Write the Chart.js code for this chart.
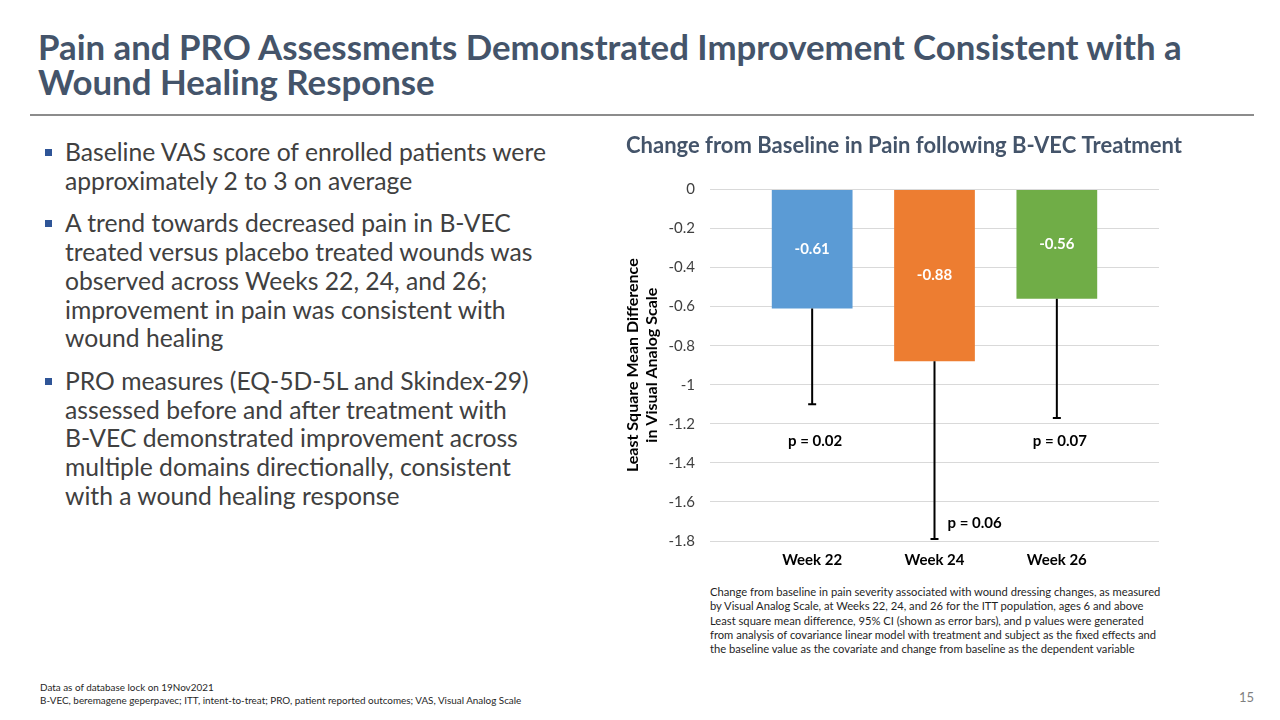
<!DOCTYPE html>
<html>
<head>
<meta charset="utf-8">
<title>Change from Baseline in Pain following B-VEC Treatment</title>
<script src="https://cdn.jsdelivr.net/npm/chart.js@4.4.1/dist/chart.umd.min.js"></script>
<style>
  html, body { margin: 0; padding: 0; background: #fff; }
  body { width: 1280px; height: 720px; position: relative; overflow: hidden; font-family: Lato, "Open Sans", sans-serif; }
  .title { position: absolute; left: 38px; top: 29px; font-size: 34.8px; line-height: 35px; font-weight: 700; color: #44546A; white-space: nowrap; }
  .rule { position: absolute; left: 30px; top: 114px; width: 1224px; height: 2px; background: #8C8C8C; }
  ul.bullets { position: absolute; left: 40px; top: 138px; margin: 0; padding: 0; list-style: none; font-size: 24.7px; line-height: 28.7px; color: #404040; white-space: nowrap; }
  ul.bullets li { position: relative; padding-left: 25px; margin-bottom: 14px; }
  ul.bullets li::before { content: ''; position: absolute; left: 5px; top: 11px; width: 7px; height: 7px; background: #2F5597; }
  #chartBox { position: absolute; left: 600px; top: 125px; width: 608px; height: 455px; }
  .note { position: absolute; left: 710px; top: 585px; font-size: 11.2px; line-height: 14.3px; color: #1f1f1f; white-space: nowrap; }
  .foot { position: absolute; left: 40px; top: 681px; font-size: 9.9px; line-height: 12.5px; color: #1f1f1f; white-space: nowrap; }
  .pagenum { position: absolute; right: 26px; top: 689px; font-size: 13px; color: #7F7F7F; }
</style>
</head>
<body>
<div class="title">Pain and PRO Assessments Demonstrated Improvement Consistent with a<br>Wound Healing Response</div>
<div class="rule"></div>

<ul class="bullets">
  <li>Baseline VAS score of enrolled patients were<br>approximately 2 to 3 on average</li>
  <li>A trend towards decreased pain in B-VEC<br>treated versus placebo treated wounds was<br>observed across Weeks 22, 24, and 26;<br>improvement in pain was consistent with<br>wound healing</li>
  <li>PRO measures (EQ-5D-5L and Skindex-29)<br>assessed before and after treatment with<br>B-VEC demonstrated improvement across<br>multiple domains directionally, consistent<br>with a wound healing response</li>
</ul>

<div id="chartBox"><canvas id="painChart"></canvas></div>

<div class="note">Change from baseline in pain severity associated with wound dressing changes, as measured<br>by Visual Analog Scale, at Weeks 22, 24, and 26 for the ITT population, ages 6 and above<br>Least square mean difference, 95% CI (shown as error bars), and p values were generated<br>from analysis of covariance linear model with treatment and subject as the fixed effects and<br>the baseline value as the covariate and change from baseline as the dependent variable</div>

<div class="foot">Data as of database lock on 19Nov2021<br>B-VEC, beremagene geperpavec; ITT, intent-to-treat; PRO, patient reported outcomes; VAS, Visual Analog Scale</div>
<div class="pagenum">15</div>

<script>
// data
const weeks = ['Week 22', 'Week 24', 'Week 26'];
const lsMeanDiff = [-0.61, -0.88, -0.56];
const ciLower = [-1.10, -1.79, -1.17];
const pValues = ['0.02', '0.06', '0.07'];
const barColors = ['#5B9BD5', '#ED7D31', '#70AD47'];
const yMin = -1.8;
const yMax = 0;
const yStep = 0.2;

const FONT = 'Lato, "Open Sans", sans-serif';

// error bars (lower half only), value labels and p values
const annotate = {
    id: 'annotate',
    afterDatasetsDraw(chart) {
        const ctx = chart.ctx;
        const y = chart.scales.y;
        const area = chart.chartArea;
        const bars = chart.getDatasetMeta(0).data;

        ctx.save();
        ctx.strokeStyle = '#000';
        ctx.lineWidth = 2;
        bars.forEach(function(bar, i) {
            const yEnd = y.getPixelForValue(ciLower[i]);
            ctx.beginPath();
            ctx.moveTo(bar.x, bar.y);
            ctx.lineTo(bar.x, yEnd);
            ctx.moveTo(bar.x - 4, yEnd);
            ctx.lineTo(bar.x + 4, yEnd);
            ctx.stroke();
        });

        // value labels in the middle of each bar
        ctx.font = 'bold 15px ' + FONT;
        ctx.fillStyle = '#fff';
        ctx.textAlign = 'center';
        ctx.textBaseline = 'middle';
        bars.forEach(function(bar, i) {
            ctx.fillText(lsMeanDiff[i].toFixed(2), bar.x, (bar.y + bar.base) / 2);
        });

        // p values: under the whisker when there is room, otherwise beside it
        const fits = ciLower.map(function(v) { return y.getPixelForValue(v) + 40 < area.bottom; });
        let lowY = 0;
        ciLower.forEach(function(v, i) { if (fits[i]) lowY = Math.max(lowY, y.getPixelForValue(v)); });
        ctx.fillStyle = '#000';
        bars.forEach(function(bar, i) {
            const txt = 'p = ' + pValues[i];
            if (fits[i]) {
                ctx.textAlign = 'center';
                ctx.fillText(txt, bar.x + 3, lowY + 23);
            } else {
                ctx.textAlign = 'left';
                ctx.fillText(txt, bar.x + 13, area.bottom - 18);
            }
        });
        ctx.restore();
    }
};

document.addEventListener('DOMContentLoaded', function() {
    const ctx = document.getElementById('painChart').getContext('2d');
    new Chart(ctx, {
        type: 'bar',
        data: {
            labels: weeks,
            datasets: [{
                data: lsMeanDiff,
                backgroundColor: barColors,
                borderWidth: 0,
                barPercentage: 0.66,
                categoryPercentage: 1
            }]
        },
        options: {
            responsive: true,
            maintainAspectRatio: false,
            animation: false,
            layout: { padding: 0 },
            plugins: {
                legend: { display: false },
                tooltip: { enabled: false },
                title: {
                    display: true,
                    text: 'Change from Baseline in Pain following B-VEC Treatment',
                    color: '#44546A',
                    font: { family: FONT, size: 22, weight: 'bold', lineHeight: 1.2 },
                    padding: { top: 8, bottom: 30 }
                }
            },
            scales: {
                x: {
                    grid: { display: false, drawTicks: false },
                    border: { display: false },
                    ticks: { color: '#000', font: { family: FONT, size: 15, weight: 'bold' }, padding: 10 },
                    afterFit: function(s) { s.height = 39; }
                },
                y: {
                    min: yMin,
                    max: yMax,
                    ticks: {
                        stepSize: yStep,
                        color: '#404040',
                        font: { family: FONT, size: 15 },
                        padding: 15,
                        callback: function(value) {
                            return String(Math.round(value * 10) / 10);
                        }
                    },
                    grid: { color: '#D9D9D9', lineWidth: 1, tickLength: 41 },
                    border: { display: false },
                    title: {
                        display: true,
                        text: ['Least Square Mean Difference', 'in Visual Analog Scale'],
                        color: '#000',
                        font: { family: FONT, size: 16, weight: 'bold', lineHeight: 1.15 },
                        padding: { top: 24, bottom: 0 }
                    },
                    afterFit: function(s) { s.width = 151; }
                },
                // right-hand twin only to carry the gridlines past the bars
                y2: {
                    position: 'right',
                    min: yMin,
                    max: yMax,
                    ticks: { stepSize: yStep, callback: function() { return ''; } },
                    grid: { drawOnChartArea: false, color: '#D9D9D9', lineWidth: 1, tickLength: 41 },
                    border: { display: false },
                    afterFit: function(s) { s.width = 90; }
                }
            }
        },
        plugins: [annotate]
    });
});
</script>
</body>
</html>
